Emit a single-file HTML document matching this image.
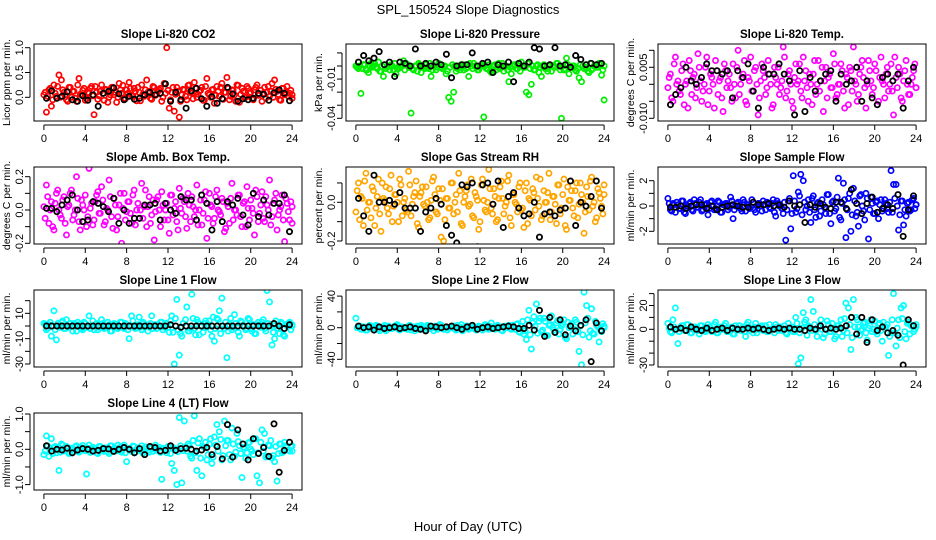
<!DOCTYPE html>
<html><head><meta charset="utf-8"><style>
body{margin:0;background:#fff}
svg{display:block;font-family:"Liberation Sans",sans-serif}
</style></head><body>
<svg id="c" width="936" height="540" viewBox="0 0 936 540">
<text x="468" y="14" text-anchor="middle" font-size="13">SPL_150524  Slope Diagnostics</text>
<text x="468" y="531" text-anchor="middle" font-size="13">Hour of Day (UTC)</text>
</svg>
<script>
const xTicks=[0,4,8,12,16,20,24];
const titles=["Slope Li-820 CO2","Slope Li-820 Pressure","Slope Li-820 Temp.","Slope Amb. Box Temp.","Slope Gas Stream RH","Slope Sample Flow","Slope Line 1 Flow","Slope Line 2 Flow","Slope Line 3 Flow","Slope Line 4 (LT) Flow"];
const yTitles=["Licor ppm per min.","kPa per min.","degrees C per min.","degrees C per min.","percent per min.","ml/min per min.","ml/min per min.","ml/min per min.","ml/min per min.","ml/min per min."];
const colors=["#ff0000","#00ee00","#ff00ff","#ff00ff","#ffa500","#0000ff","#00ffff","#00ffff","#00ffff","#00ffff"];
const yTickVals=[[0,0.5,1],[10,0,-10,-20,-30,-40],[10,5,0,-5,-10],[20,10,0,-10,-20],[10,0,-10,-20],[2,1,0,-1,-2],[20,10,0,-10,-20,-30],[40,20,0,-20,-40],[30,20,10,0,-10,-20,-30],[1,0.5,0,-0.5,-1]];
const yTickLabels=[["0.0","0.5","1.0"],["","","-0.01","","","-0.04"],["","0.005","","","-0.010"],["0.2","","0.0","","-0.2"],["","0.0","","-0.2"],["2","","0","","-2"],["","10","","-10","","-30"],["40","","0","","-40"],["","20","","0","","","-30"],["1.0","","0.0","","-1.0"]];
const yRefVals=[[0,1],[0,-40],[0,-10],[0,20],[0,-20],[0,2],[0,-30],[0,-40],[0,-30],[0,1]];
const yRefPix=[[53.3,3.7],[22,74.3],[40.3,74.3],[43,9.7],[35.3,74],[39,13.7],[36,74],[37.7,69.3],[39.3,75],[36.3,1]];

const co2=[0.05,-0.30,0.15,-0.18,0.25,0.02,0.45,0.35,0.10,-0.05,0.20,0.00,0.12,-0.08,0.38,0.05,0.18,-0.03,0.08,0.22,-0.35,0.10,0.03,0.25,-0.06,0.15,0.00,0.20,0.05,-0.10,0.28,0.08,-0.02,0.15,0.30,0.04,0.18,-0.07,0.10,0.25,0.02,0.35,0.12,-0.04,0.20,0.06,0.15,-0.08,0.28,1.00,-0.22,0.10,-0.28,0.20,-0.40,0.05,0.15,-0.05,0.25,0.08,0.30,0.00,0.12,0.20,-0.06,0.38,0.05,0.15,-0.12,0.22,0.02,0.28,0.10,0.40,-0.05,0.15,0.05,0.25,-0.10,0.18,0.00,0.22,0.08,-0.03,0.15,0.25,0.05,-0.08,0.20,0.10,0.02,0.28,0.35,0.12,-0.05,0.18,0.05,0.22,0.08,-0.02];
const co2B=[0.10,0.02,0.18,-0.05,0.08,0.22,0.00,0.15,0.05,-0.08,0.20,0.12,-0.02,0.25,0.06,0.14,-0.06,0.10,0.18,0.03,0.22,-0.04,0.12,0.08,0.16,-0.10,0.05,0.20,0.10,0.00,0.15,0.24,-0.03,0.08,0.18,0.02,0.12,0.20,-0.07,0.06,0.15,0.10,-0.02,0.22,0.04,0.12,0.18,0.00,0.08,0.14,-0.05,0.20,0.06,0.12,-0.08,0.16,0.02,0.24,0.10,-0.03,0.18,0.06,0.14,-0.06,0.22,0.08,0.00,0.16,0.04,0.12,0.20,-0.04,0.10,0.18,0.02,0.14,-0.08,0.24,0.06,0.12,0.00,0.18,0.10,-0.05,0.20,0.04,0.14,0.08,-0.02,0.22,0.12,0.00,0.16,0.06,-0.06,0.18,0.10,0.02,0.14,0.05];
const co2Avg=[-0.02,0.13,-0.02,0.02,0.11,-0.05,-0.08,0.03,-0.06,0.05,-0.18,0.08,0.12,0.19,0.07,-0.05,0.02,-0.04,-0.02,0.05,0.10,0.05,0.08,0.27,-0.08,0.10,-0.05,-0.22,0.13,0.18,-0.03,-0.18,0.01,-0.12,-0.03,0.20,0.07,-0.08,-0.03,-0.05,-0.02,0.08,0.06,-0.06,0.09,0.15,0.08,-0.07];
const press=[0,-2,-21,1,-3,-5,2,0,-1,3,-4,-8,-2,0,1,-3,-6,-2,0,4,2,-1,-36,-3,0,2,-5,-1,1,-2,-8,0,-3,2,-1,0,-6,-24,-27,-20,-4,0,1,-3,-2,-8,0,2,-1,-3,0,-39,-2,1,-5,0,-3,2,-1,-4,0,-12,-6,1,-2,0,3,-1,-20,-22,-14,-3,0,-5,-8,1,-2,0,-4,-1,2,0,-40,-3,6,-6,-1,0,-4,-9,-12,-2,1,-5,-3,0,-1,2,-7,-26];
const pressB=[-1,0,-2,1,-3,0,-1,2,-2,-4,0,1,-1,-3,0,2,-2,-1,0,-3,1,-1,-2,0,-4,1,0,-2,-1,2,-3,0,-1,1,-2,0,-4,-1,1,0,-2,-3,0,1,-1,2,-2,0,-3,-1,1,0,-2,-4,0,1,-1,-2,2,0,-3,-1,0,1,-2,-4,0,-1,2,-2,0,-3,1,-1,0,-2,-4,1,0,-1,2,-3,0,-2,1,-1,0,-3,-2,1,0,-1,-4,2,-2,0,-1,1,-3,0];
const pressAvg=[3,8,4,6,11,1,3,-8,3,2,0,13,0,2,0,3,1,9,-9,0,1,1,10,0,2,3,-5,1,0,3,-12,2,0,3,14,13,0,1,14,0,1,-1,8,5,1,2,1,2];
const ltemp=[-1,3,-5,8,1,-3,6,0,-7,4,2,-4,9,1,-2,5,-6,3,0,7,-3,2,-8,4,1,-1,6,-4,10,0,3,-5,2,8,-2,5,-9,1,4,-3,7,0,-6,2,5,-1,11,-4,3,0,-7,6,1,-2,8,4,-5,0,3,-3,7,1,-8,5,2,-1,9,-4,0,6,-2,3,-6,4,11,0,-3,5,2,-7,7,1,-1,4,-5,8,0,3,-2,6,-9,2,5,-4,1,7,-3,0,4,-1];
const ltempB=[2,-4,6,0,-2,4,-6,1,7,-3,3,-1,5,-5,0,8,-2,2,-7,4,1,-4,6,-1,3,-5,0,5,-3,2,7,-6,1,-2,4,0,-4,6,2,-1,3,-7,5,0,-3,1,8,-2,4,-5,2,0,6,-4,1,-1,3,-6,7,0,-2,5,1,-4,3,-1,6,-3,0,4,-7,2,5,-2,1,-5,3,7,-1,0,4,-3,6,-6,2,1,-4,5,0,-2,8,-1,3,-5,4,0,-3,2,6,-1];
const ltempAvg=[-6,-3,-1,5,1,0,2,6,4,4,3,4,-4,4,2,6,-2,-7,5,3,3,6,3,1,-9,4,-8,2,-2,1,3,4,-5,3,0,1,5,-5,1,-4,-6,2,3,1,3,-7,1,5];
const amb=[2,15,-8,5,-12,10,0,-5,8,-15,3,12,-3,20,-7,6,0,-10,25,4,-6,9,-2,14,-9,1,18,-4,7,-12,3,-20,10,-1,5,-8,12,0,-5,16,2,-10,8,-3,-18,6,0,11,-6,4,-14,9,1,-7,13,-2,5,-11,3,8,-4,15,0,-9,6,-17,10,2,-5,12,-1,7,-13,4,-8,16,0,-3,9,-10,5,14,-6,1,-15,8,-2,11,-7,3,18,-4,6,-12,0,9,-19,4,-6,2];
const ambB=[-5,8,0,-10,4,12,-3,6,-8,2,10,-6,0,7,-12,3,9,-4,1,-9,5,11,-2,6,-7,0,8,-11,3,-4,10,1,-6,5,-2,9,-9,4,0,-5,12,2,-8,6,-1,8,-10,3,0,-6,9,-3,5,-12,1,7,-4,10,-7,2,0,-9,6,-2,11,-5,3,-8,8,0,-3,5,-11,2,7,-6,0,9,-4,4,-10,1,6,-2,12,-7,3,-5,8,0,-9,4,10,-3,2,-6,7,-1,5,-8];
const ambAvg=[1,1,-1,3,6,9,0,-7,-6,5,4,2,-1,7,-8,0,-8,-5,-5,3,3,4,-6,4,0,-2,8,6,6,-6,9,4,-12,5,-7,5,3,7,-3,-9,10,-4,6,-3,4,4,9,-13];
const rh=[-5,10,3,-12,15,0,-8,6,-3,12,-15,2,8,-6,14,-2,4,-10,9,0,-4,16,-7,3,11,-13,5,-1,8,-9,1,13,-5,7,-18,-20,2,-3,10,-6,4,15,-11,0,6,-2,12,-8,3,-14,9,1,-5,17,-3,7,-10,2,11,-6,0,14,-12,4,-1,8,-4,-13,10,2,-7,5,13,-2,-9,6,0,15,-5,3,-11,9,-3,12,-14,1,6,-7,10,-1,4,-16,8,-4,13,0,-8,5,-2,9];
const rhB=[6,-9,2,11,-4,0,8,-12,3,-6,10,1,-3,7,-10,4,0,12,-7,2,-5,9,-1,5,-11,3,8,-2,0,-8,11,4,-6,1,7,-9,2,-3,10,0,-5,6,-12,3,9,-1,-7,5,1,-10,12,-4,0,7,-6,3,-9,8,2,-2,11,-8,4,0,-5,10,-3,6,-11,1,7,-4,2,12,-7,0,5,-9,3,-1,9,-6,4,-12,8,1,-3,6,-8,10,0,-5,3,11,-2,-10,7,2,-6,4];
const rhAvg=[2,-7,-15,14,0,0,1,-1,5,-3,-3,-3,-15,-5,-3,2,-1,-12,-17,-21,9,8,10,-23,9,10,-1,11,-13,3,5,-3,-7,-6,0,-18,-6,-5,-7,-4,-3,11,-12,0,-2,3,11,-3];
const sflow=[0.6,-0.3,0.2,-0.5,0.1,-0.2,0.4,-0.6,0,0.3,-0.4,0.2,-0.1,0.5,-0.3,0.1,-0.7,0.3,0,-0.2,0.4,-0.5,0.1,0.2,-0.3,0.7,-1.0,0,0.3,-0.2,0.5,-0.4,0.1,-0.1,0.3,-0.5,0.2,0,0.4,-0.3,0.1,-0.2,0.5,-0.8,0.2,0,-0.6,-2.7,0.4,-1.8,2.4,-0.5,1.1,2.5,2.0,-0.3,0.5,-1.3,0.8,-0.9,0.3,-0.4,0.1,-0.6,0.9,-1.4,0.4,-0.2,2.2,-1.1,1.8,-2.5,0.6,-2.0,1.4,-0.8,-1.6,0.9,-0.4,1.0,-2.6,0.7,-0.6,0.3,-1.0,0.5,-0.2,0.2,-0.5,2.8,1.7,1.7,-1.9,0.4,-1.5,-0.8,0.3,-0.3,0.6,0.1];
const sflowB=[0.2,-0.4,0.1,0.3,-0.2,0.4,-0.5,0,0.2,-0.3,0.5,-0.1,0.3,-0.4,0.1,0.2,-0.2,0.4,-0.3,0,0.3,-0.5,0.1,0.2,-0.1,0.4,-0.3,0.2,0,-0.4,0.3,0.1,-0.2,0.5,-0.3,0,0.2,-0.4,0.1,0.3,-0.1,0.2,-0.5,0.4,0,-0.2,0.3,-0.3,0.6,-0.6,0.4,-0.2,0.8,-0.7,0.3,0,-0.5,0.6,-0.3,0.2,-0.8,0.5,-0.1,0.9,-0.6,0.3,-0.4,0.7,-0.9,0.2,0.5,-0.3,1.0,-0.7,0.4,-0.5,0.8,0,-1.1,0.6,-0.3,0.2,-0.6,0.4,0.1,-0.4,0.5,-0.2,0.3,-0.5,0.6,0,-0.7,0.4,-0.3,0.2,-0.4,0.5,-0.2,0.1];
const sflowAvg=[-0.1,-0.1,0,-0.2,0,0.1,0.1,-0.2,0,-0.3,-0.1,0,0.1,0,-0.1,-0.1,0.3,0.1,0.1,0.2,0,0.1,-0.1,0.4,0,0.1,-1.3,0.1,-0.1,0.2,-0.1,-0.2,0.3,0.3,-0.2,1.3,0.2,-0.6,0.2,0.7,-0.5,-0.2,0.1,-0.2,0.9,-2.4,-0.3,0.8];
const l1=[2,-3,1,-8,12,-11,0,3,-2,5,-1,0,2,-4,1,-2,3,-1,8,0,-3,2,-1,5,-2,0,1,-4,2,-1,0,3,-2,1,-10,8,-1,0,7,-3,2,0,-1,8,1,-2,0,3,-1,2,-5,8,-30,21,-23,-8,32,15,-4,25,-2,5,-7,0,2,-1,4,-8,-12,6,12,22,-2,-25,1,-3,9,-1,-8,3,0,-2,5,-4,-6,1,0,3,-2,28,19,-15,-10,-2,-6,2,-8,0,3,1];
const l1B=[1,-2,3,0,-3,2,-1,4,-2,0,2,-4,1,3,-1,-3,2,0,-2,4,1,-3,0,2,-1,3,-4,1,0,-2,3,-1,2,-3,0,4,-2,1,-1,3,0,-4,2,-2,1,0,3,-3,2,-1,4,-5,6,-3,-6,2,5,-4,-2,6,-7,3,0,-5,4,1,-3,7,-2,5,-6,0,3,-4,6,-1,2,-5,4,0,-3,6,-2,1,-6,3,-1,5,-4,2,0,-5,4,-2,3,-7,1,2,-3,0];
const l1Avg=[0,0,0,0,0,0,0,0,0,0,0,0,0,0,0,0,0,0,0,0,0,0,0,0,1,0,-1,0,0,0,0,0,0,0,0,0,0,0,0,0,0,0,0,0,2,0,-2,1];
const l2=[12,2,-2,1,-3,0,2,-1,3,-2,0,1,-4,2,-1,0,3,-2,1,-1,0,2,-3,1,0,-2,3,-1,0,2,-1,-4,1,0,3,-2,1,-1,0,2,-3,0,4,-1,2,-2,0,1,-3,2,0,-1,3,-2,6,0,-1,2,-3,1,0,3,-2,1,4,-5,2,-8,-15,22,-27,14,30,8,-5,12,-10,3,15,-3,6,-8,2,10,-14,0,5,-2,7,-30,-47,45,28,-12,24,-8,3,-18,-5,2];
const l2B=[0,2,-2,1,-3,3,0,-1,2,-4,1,3,-2,0,-1,2,4,-3,1,0,-2,3,-1,-4,2,0,1,-3,3,-1,0,2,-2,4,-1,1,-3,0,2,-2,3,1,-4,0,2,-1,3,-2,0,1,-3,4,-1,2,0,-2,3,1,-4,2,0,-1,3,-2,5,-6,8,-4,10,-9,6,2,-7,12,-3,8,-10,4,0,-6,9,-2,5,-12,7,3,-8,10,-5,2,-9,6,12,-4,-7,8,1,-3,5,0];
const l2Avg=[2,0,1,-3,1,-1,0,1,-1,0,1,-1,-2,-4,2,1,0,1,2,0,-2,1,3,-2,0,1,-1,0,1,2,1,-1,-1,3,-3,22,-11,13,-6,10,-9,2,-4,3,10,-43,6,-4];
const l3=[5,-2,8,18,-12,1,3,-1,4,-3,0,2,-1,3,0,-2,4,1,-1,6,-3,2,0,5,-2,1,-4,3,0,-1,2,-6,6,1,-3,5,0,2,-1,3,-2,0,1,4,-1,2,0,-3,5,1,-2,10,-29,-24,14,8,3,25,15,-1,2,8,-7,0,4,-2,1,-6,3,8,-1,22,18,-17,25,10,2,-1,5,-3,1,8,0,-2,4,-1,6,2,-22,-3,30,-14,8,18,20,-8,6,3,-2,4];
const l3B=[1,-3,2,0,-2,3,-1,4,0,-3,2,1,-4,3,0,-1,2,-2,4,-3,1,0,3,-2,-1,2,-4,1,3,0,-2,4,-1,0,2,-3,1,3,-1,-2,4,0,-3,2,1,-1,3,-4,0,2,-2,5,-3,1,6,-5,2,-1,4,-6,3,0,-4,7,-2,5,-8,3,1,-6,9,-3,4,-7,2,8,-5,0,6,-9,3,-2,7,-4,5,-10,2,4,-6,8,-3,1,-7,9,-2,5,-4,3,0,2];
const l3Avg=[2,0,1,-1,2,0,-1,1,-1,0,1,-1,1,0,0,1,0,1,0,-1,0,1,0,1,0,0,-1,1,0,3,0,1,0,1,3,10,-4,10,-11,8,-1,2,-3,-1,-5,-30,8,3];
const l4=[-15,38,-20,30,5,-10,-60,15,-5,8,-12,3,0,10,-8,5,-3,-70,12,-5,2,-10,8,0,-6,3,-12,10,0,-4,5,-8,12,-35,2,-6,8,0,-3,10,-5,2,-8,4,0,-3,6,-85,2,-10,5,-40,-60,-100,90,-95,80,-5,10,-25,95,-60,30,-75,5,-30,15,-40,35,70,50,-30,80,25,-15,60,-20,45,10,-80,5,-10,20,-5,30,-75,-95,55,45,-20,10,-25,-35,-90,15,-10,20,5,-5,10];
const l4B=[-5,10,3,-12,8,0,-8,12,-3,5,-10,2,7,-6,0,11,-4,3,-9,6,1,-12,8,-2,4,-7,10,0,-5,12,-3,6,-10,2,-1,9,-8,4,0,-11,7,-3,5,-6,12,1,-9,3,-2,8,-12,5,0,-7,10,-4,6,15,-20,25,-10,18,-25,8,20,-15,30,-22,12,-5,28,-18,10,25,-30,15,-8,22,-12,5,-25,18,0,-15,30,-10,20,-5,-22,12,25,-18,8,-12,15,-6,10,-3,8,-5];
const l4Avg=[10,-5,0,-2,3,-10,-2,2,0,-5,-3,2,1,-6,0,5,0,-10,2,-15,8,5,-5,-3,10,-3,2,3,0,-5,-2,5,-15,8,-27,70,-22,55,15,-30,30,-12,5,-20,72,-65,-3,20];

const unitScale=[1,1,1,1,1,1,1,1,1,0.01];
const series=[co2,press,ltemp,amb,rh,sflow,l1,l2,l3,l4];
const seriesB=[co2B,pressB,ltempB,ambB,rhB,sflowB,l1B,l2B,l3B,l4B];
const avgSeries=[co2Avg,pressAvg,ltempAvg,ambAvg,rhAvg,sflowAvg,l1Avg,l2Avg,l3Avg,l4Avg];
const names=["co2","pressure","licor-temp","amb-box-temp","gas-rh","sample-flow","line1-flow","line2-flow","line3-flow","line4-flow"];

const NS="http://www.w3.org/2000/svg";
const svg=document.getElementById('c');
const colL=[34,346,658], rowT=[44,167,290,413], W=268, H=77;
function mk(tag,attrs,parent){const e=document.createElementNS(NS,tag);for(const k in attrs)e.setAttribute(k,attrs[k]);(parent||svg).appendChild(e);return e;}

for(let p=0;p<10;p++){
  const L=colL[p%3], T=rowT[Math.floor(p/3)];
  const g=mk('g',{});
  
  
  const xs=h=>L+9.9+h*(W-19.8)/24;
  const [va,vb]=yRefVals[p],[pa,pb]=yRefPix[p];
  const ys=v=>T+pa+(v-va)*(pb-pa)/(vb-va);
  const t=mk('text',{x:L+W/2,y:T-6,'text-anchor':'middle','font-size':'11.5','font-weight':'bold'},g);
  t.textContent=titles[p];
  
  
  const yt=mk('text',{x:L-24,y:T+H/2,'text-anchor':'middle','font-size':'10.5',transform:`rotate(-90 ${L-24} ${T+H/2})`},g);
  yt.textContent=yTitles[p];
  
  
  const xa=mk('g',{},g);
  
  
  mk('line',{x1:xs(0),x2:xs(24),y1:T+H+4,y2:T+H+4,stroke:'#000','stroke-width':1},xa);
  xTicks.forEach(v=>{
    mk('line',{x1:xs(v),x2:xs(v),y1:T+H+4,y2:T+H+9,stroke:'#000','stroke-width':1},xa);
    const tx=mk('text',{x:xs(v),y:T+H+21,'text-anchor':'middle','font-size':'11'},xa);
    tx.textContent=v;
    
    
  });
  const ya=mk('g',{},g);
  
  
  const tv=yTickVals[p];
  mk('line',{x1:L-4,x2:L-4,y1:ys(tv[0]),y2:ys(tv[tv.length-1]),stroke:'#000','stroke-width':1},ya);
  tv.forEach((v,i)=>{
    mk('line',{x1:L-9,x2:L-4,y1:ys(v),y2:ys(v),stroke:'#000','stroke-width':1},ya);
    const lb=yTickLabels[p][i];
    if(lb){const ty=mk('text',{x:L-11,y:ys(v),'text-anchor':'middle','font-size':'11',transform:`rotate(-90 ${L-11} ${ys(v)})`},ya);
      ty.textContent=lb;
      
      }
  });
  const cid='cl'+p;
  const cp=mk('clipPath',{id:cid},g);mk('rect',{x:L,y:T,width:W,height:H},cp);
  const pts=mk('g',{'clip-path':`url(#${cid})`},g);
  
  
  const s=series[p], n=s.length;
  s.forEach((v,i)=>{
    const c=mk('circle',{cx:xs(i*24/(n-1)),cy:ys(v*unitScale[p]),r:2.6,fill:'none',stroke:colors[p],'stroke-width':1.7},pts);
    
    
  });
  const sb=seriesB[p], nb=sb.length;
  sb.forEach((v,i)=>{
    const c=mk('circle',{cx:xs(Math.min(24,(i+0.5)*24/(nb-1))),cy:ys(v*unitScale[p]),r:2.6,fill:'none',stroke:colors[p],'stroke-width':1.7},pts);
    
    
  });
  const a=avgSeries[p];
  a.forEach((v,i)=>{
    const c=mk('circle',{cx:xs(0.25+i*0.5),cy:ys(v*unitScale[p]),r:2.6,fill:'none',stroke:'#000','stroke-width':1.8},pts);
    
    
  });
  const box=mk('rect',{x:L,y:T,width:W,height:H,fill:'none',stroke:'#000','stroke-width':1},g);
  
  
}
</script>
</body></html>
